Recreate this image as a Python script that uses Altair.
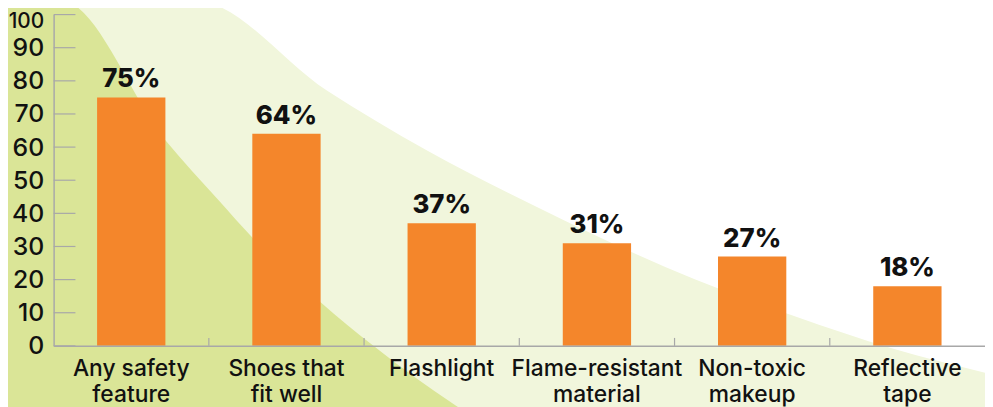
import altair as alt
import pandas as pd

# ---- data ----
categories = ["Any safety|feature", "Shoes that|fit well", "Flashlight",
              "Flame-resistant|material", "Non-toxic|makeup", "Reflective|tape"]
values = [75, 64, 37, 31, 27, 18]
y_ticks = [0, 10, 20, 30, 40, 50, 60, 70, 80, 90, 100]
x_tick_positions = [1, 2, 3, 4, 5]  # band boundaries (in band units)

# decorative background swooshes (x in band units 0..6, y in value units)
outer_x = [-0.41, 0.93, 1.76, 2.40, 3.11, 4.13, 4.77, 5.41, 6.05]
outer_y = [106, 104.1, 77.1, 59.1, 42.0, 20.1, 9.0, -0.9, -8.7]
inner_x = [-0.41, 0.07, 0.72, 1.06, 1.28, 1.72, 2.06, 2.59, 2.72]
inner_y = [106, 104.1, 62.1, 44.1, 32.7, 13.2, 0.0, -18.0, -21.9]

W, H = 939, 334
FONT = "Inter"

bars_df = pd.DataFrame({"cat": categories, "value": values})
outer_df = pd.DataFrame({"x": outer_x, "y": outer_y})
inner_df = pd.DataFrame({"x": inner_x, "y": inner_y})
yt_df = pd.DataFrame({"value": y_ticks})
xt_df = pd.DataFrame({"p": x_tick_positions})

xq = alt.Scale(domain=[0, 6], nice=False, zero=False)
ys = alt.Scale(domain=[0, 100], nice=False)
y_axis = alt.Axis(values=y_ticks, title=None,
                  labelFontSize=alt.condition("datum.value == 100", alt.value(21), alt.value(25)),
                  labelPadding=10,
                  labelFont=FONT, labelFontWeight=500, labelColor="#111111",
                  labelOffset=alt.condition("datum.value == 100", alt.value(7), alt.value(0)),
                  ticks=False, grid=False,
                  domainColor="#a8a8a8", domainWidth=1.5, zindex=1)
x_band = alt.Scale(paddingInner=0.56, paddingOuter=0.28)

outer = alt.Chart(outer_df).mark_area(color="#f1f6dc", interpolate="monotone").encode(
    x=alt.X("x:Q", scale=xq, axis=None),
    y=alt.Y("y:Q", scale=ys, axis=y_axis),
    y2=alt.datum(-40),
)
inner = alt.Chart(inner_df).mark_area(color="#dae597", interpolate="monotone").encode(
    x=alt.X("x:Q", scale=xq, axis=None),
    y=alt.Y("y:Q", scale=ys, axis=y_axis),
    y2=alt.datum(-40),
)
ytick = alt.Chart(yt_df).mark_rule(color="#a8a8a8", strokeWidth=1.2).encode(
    y=alt.Y("value:Q", scale=ys, axis=y_axis),
    x=alt.value(0), x2=alt.value(22),
)
xtick = alt.Chart(xt_df).mark_rule(color="#a8a8a8", strokeWidth=1.2).encode(
    x=alt.X("p:Q", scale=xq, axis=None),
    y=alt.value(H), y2=alt.value(H - 8),
)
bars = alt.Chart(bars_df).mark_bar(color="#f4862b").encode(
    x=alt.X("cat:N", sort=categories, scale=x_band,
            axis=alt.Axis(title=None, labelAngle=0, labelFontSize=23, labelFont=FONT,
                          labelFontWeight=500,
                          labelColor="#111111", labelPadding=12, labelLineHeight=26,
                          labelExpr="split(datum.label, '|')", ticks=False,
                          domainColor="#a8a8a8", domainWidth=1.5, zindex=1,
                          labelBaseline="top")),
    y=alt.Y("value:Q", scale=ys, axis=y_axis),
)
text = alt.Chart(bars_df).transform_calculate(
    lbl="datum.value + '%'"
).mark_text(baseline="alphabetic", dy=-10, fontSize=26, fontWeight=800,
            font=FONT, color="#111111").encode(
    x=alt.X("cat:N", sort=categories, scale=x_band, axis=None),
    y=alt.Y("value:Q", scale=ys, axis=y_axis),
    text="lbl:N",
)

chart = alt.layer(outer, inner, xtick, ytick, bars, text).resolve_scale(
    x="independent"
).properties(
    width=W, height=H,
    autosize=alt.AutoSizeParams(type="none"),
    padding={"left": 46, "top": 5, "right": 0, "bottom": 60},
    background="white",
).configure_view(stroke=None)

chart.save("out.html", embed_options={"renderer": "svg", "actions": False})
